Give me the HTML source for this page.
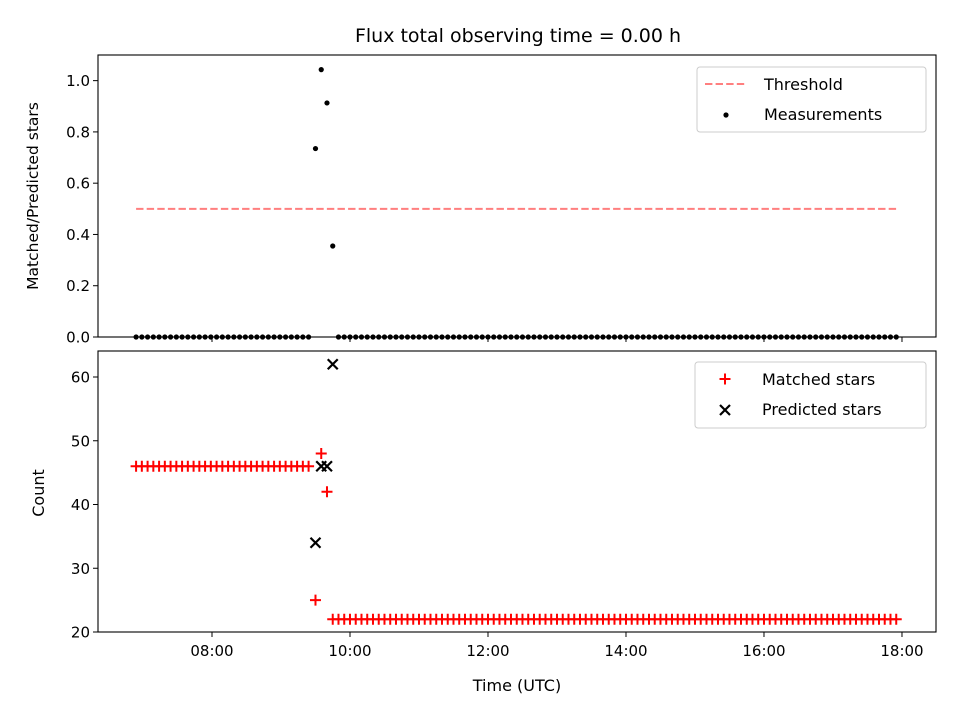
<!DOCTYPE html>
<html><head><meta charset="utf-8"><style>body{margin:0;background:#fff}svg{font-family:"DejaVu Sans","Liberation Sans",sans-serif}</style></head>
<body>
<svg id="c" width="960" height="720" xmlns="http://www.w3.org/2000/svg"></svg>
<script>
// data (hours UTC)
const seg1Start = 6.9, seg1Count = 31;
const seg1Matched = 46;
const specialTimes = [9.5, 9.5833, 9.6667, 9.75];
const specialMatched = [25, 48, 42, 22];
const specialPredicted = [34, 46, 46, 62];
const specialRatio = [0.735, 1.043, 0.913, 0.355];
const tailStart = 9.8333, tailCount = 98;
const tailMatched = 22;
const threshold = 0.5;
const xTicks = [8, 10, 12, 14, 16, 18];
const xTickLabels = ["08:00","10:00","12:00","14:00","16:00","18:00"];
const topTicks = [0, 0.2, 0.4, 0.6, 0.8, 1.0];
const botTicks = [20, 30, 40, 50, 60];

const svg = document.getElementById('c');
const NS = "http://www.w3.org/2000/svg";
function mk(tag, attrs, name, parent){const e=document.createElementNS(NS,tag);for(const k in attrs)e.setAttribute(k,attrs[k]);


(parent||svg).appendChild(e);return e;}
const L=98,R=936;
const xs = t => L + (t-6.348)/(18.493-6.348)*(R-L);
const T1=55,B1=337, T2=351,B2=632;
const y1 = v => B1 - (v-0)/(1.1-0)*(B1-T1);
const y2 = v => B2 - (v-20)/(64.08-20)*(B2-T2);

const t1=[],t2=[];
for(let i=0;i<seg1Count;i++) t1.push(seg1Start+i/12);
for(let i=0;i<tailCount;i++) t2.push(tailStart+i/12);

mk('text',{x:518,y:42,'text-anchor':'middle','font-size':19},'chart-title').textContent='Flux total observing time = 0.00 h';

function frame(T,B,n){mk('rect',{x:L,y:T,width:R-L,height:B-T,fill:'none',stroke:'#000','stroke-width':1.1},n);}
// top panel
mk('line',{x1:xs(t1[0]),x2:xs(t2[t2.length-1]),y1:y1(threshold),y2:y1(threshold),stroke:'#ff7f7f','stroke-width':2,'stroke-dasharray':'7.4,3.2'},'threshold-line');
const g1=mk('g',{},'measurements');
[...t1.map(t=>[t,0]),...specialTimes.map((t,i)=>[t,specialRatio[i]]),...t2.map(t=>[t,0])].forEach(([t,v])=>
 mk('circle',{cx:xs(t),cy:y1(v),r:2.6,fill:'#000'},'measurement-point',g1));
frame(T1,B1,'top-axes');
topTicks.forEach(v=>{mk('line',{x1:L-5,x2:L,y1:y1(v),y2:y1(v),stroke:'#000'},'top-y-tick');
 mk('text',{x:L-8,y:y1(v)+5.5,'text-anchor':'end','font-size':15},'top-y-tick-label').textContent=v.toFixed(1);});
xTicks.forEach(t=>mk('line',{x1:xs(t),x2:xs(t),y1:B1,y2:B1+5,stroke:'#000'},'top-x-tick'));
mk('text',{x:38,y:196,'text-anchor':'middle','font-size':15.5,transform:'rotate(-90 38 196)'},'top-y-axis-title').textContent='Matched/Predicted stars';
// top legend
mk('rect',{x:697,y:67,width:229,height:65,rx:3,fill:'#fff',stroke:'#ccc'},'top-legend');
mk('line',{x1:705,x2:746,y1:84,y2:84,stroke:'#ff7f7f','stroke-width':2,'stroke-dasharray':'7.4,3.2'},'legend-threshold-swatch');
mk('text',{x:764,y:90,'font-size':16},'legend-threshold-label').textContent='Threshold';
mk('circle',{cx:726,cy:115,r:2.6,fill:'#000'},'legend-measurements-swatch');
mk('text',{x:764,y:120,'font-size':16},'legend-measurements-label').textContent='Measurements';

// bottom panel
function plus(x,y,g,n){mk('path',{d:`M${x-5.5},${y}H${x+5.5}M${x},${y-5.5}V${y+5.5}`,stroke:'#f00','stroke-width':2},n,g);}
function cross(x,y,g,n){mk('path',{d:`M${x-5},${y-5}L${x+5},${y+5}M${x-5},${y+5}L${x+5},${y-5}`,stroke:'#000','stroke-width':2.2},n,g);}
const g2=mk('g',{},'matched-stars');
t1.forEach(t=>plus(xs(t),y2(seg1Matched),g2,'matched-point'));
specialTimes.forEach((t,i)=>plus(xs(t),y2(specialMatched[i]),g2,'matched-point'));
t2.forEach(t=>plus(xs(t),y2(tailMatched),g2,'matched-point'));
const g3=mk('g',{},'predicted-stars');
specialTimes.forEach((t,i)=>cross(xs(t),y2(specialPredicted[i]),g3,'predicted-point'));
frame(T2,B2,'bottom-axes');
botTicks.forEach(v=>{mk('line',{x1:L-5,x2:L,y1:y2(v),y2:y2(v),stroke:'#000'},'bottom-y-tick');
 mk('text',{x:L-8,y:y2(v)+5.5,'text-anchor':'end','font-size':15},'bottom-y-tick-label').textContent=v;});
xTicks.forEach((t,i)=>{mk('line',{x1:xs(t),x2:xs(t),y1:B2,y2:B2+5,stroke:'#000'},'x-tick');
 mk('text',{x:xs(t),y:B2+24,'text-anchor':'middle','font-size':15},'x-tick-label').textContent=xTickLabels[i];});
mk('text',{x:517,y:691,'text-anchor':'middle','font-size':16},'x-axis-title').textContent='Time (UTC)';
mk('text',{x:44,y:493,'text-anchor':'middle','font-size':16,transform:'rotate(-90 44 493)'},'bottom-y-axis-title').textContent='Count';
// bottom legend
mk('rect',{x:695,y:362,width:231,height:66,rx:3,fill:'#fff',stroke:'#ccc'},'bottom-legend');
plus(725,379,svg,'legend-matched-swatch');
mk('text',{x:762,y:385,'font-size':16},'legend-matched-label').textContent='Matched stars';
cross(725,410,svg,'legend-predicted-swatch');
mk('text',{x:762,y:415,'font-size':16},'legend-predicted-label').textContent='Predicted stars';
</script>
</body></html>
